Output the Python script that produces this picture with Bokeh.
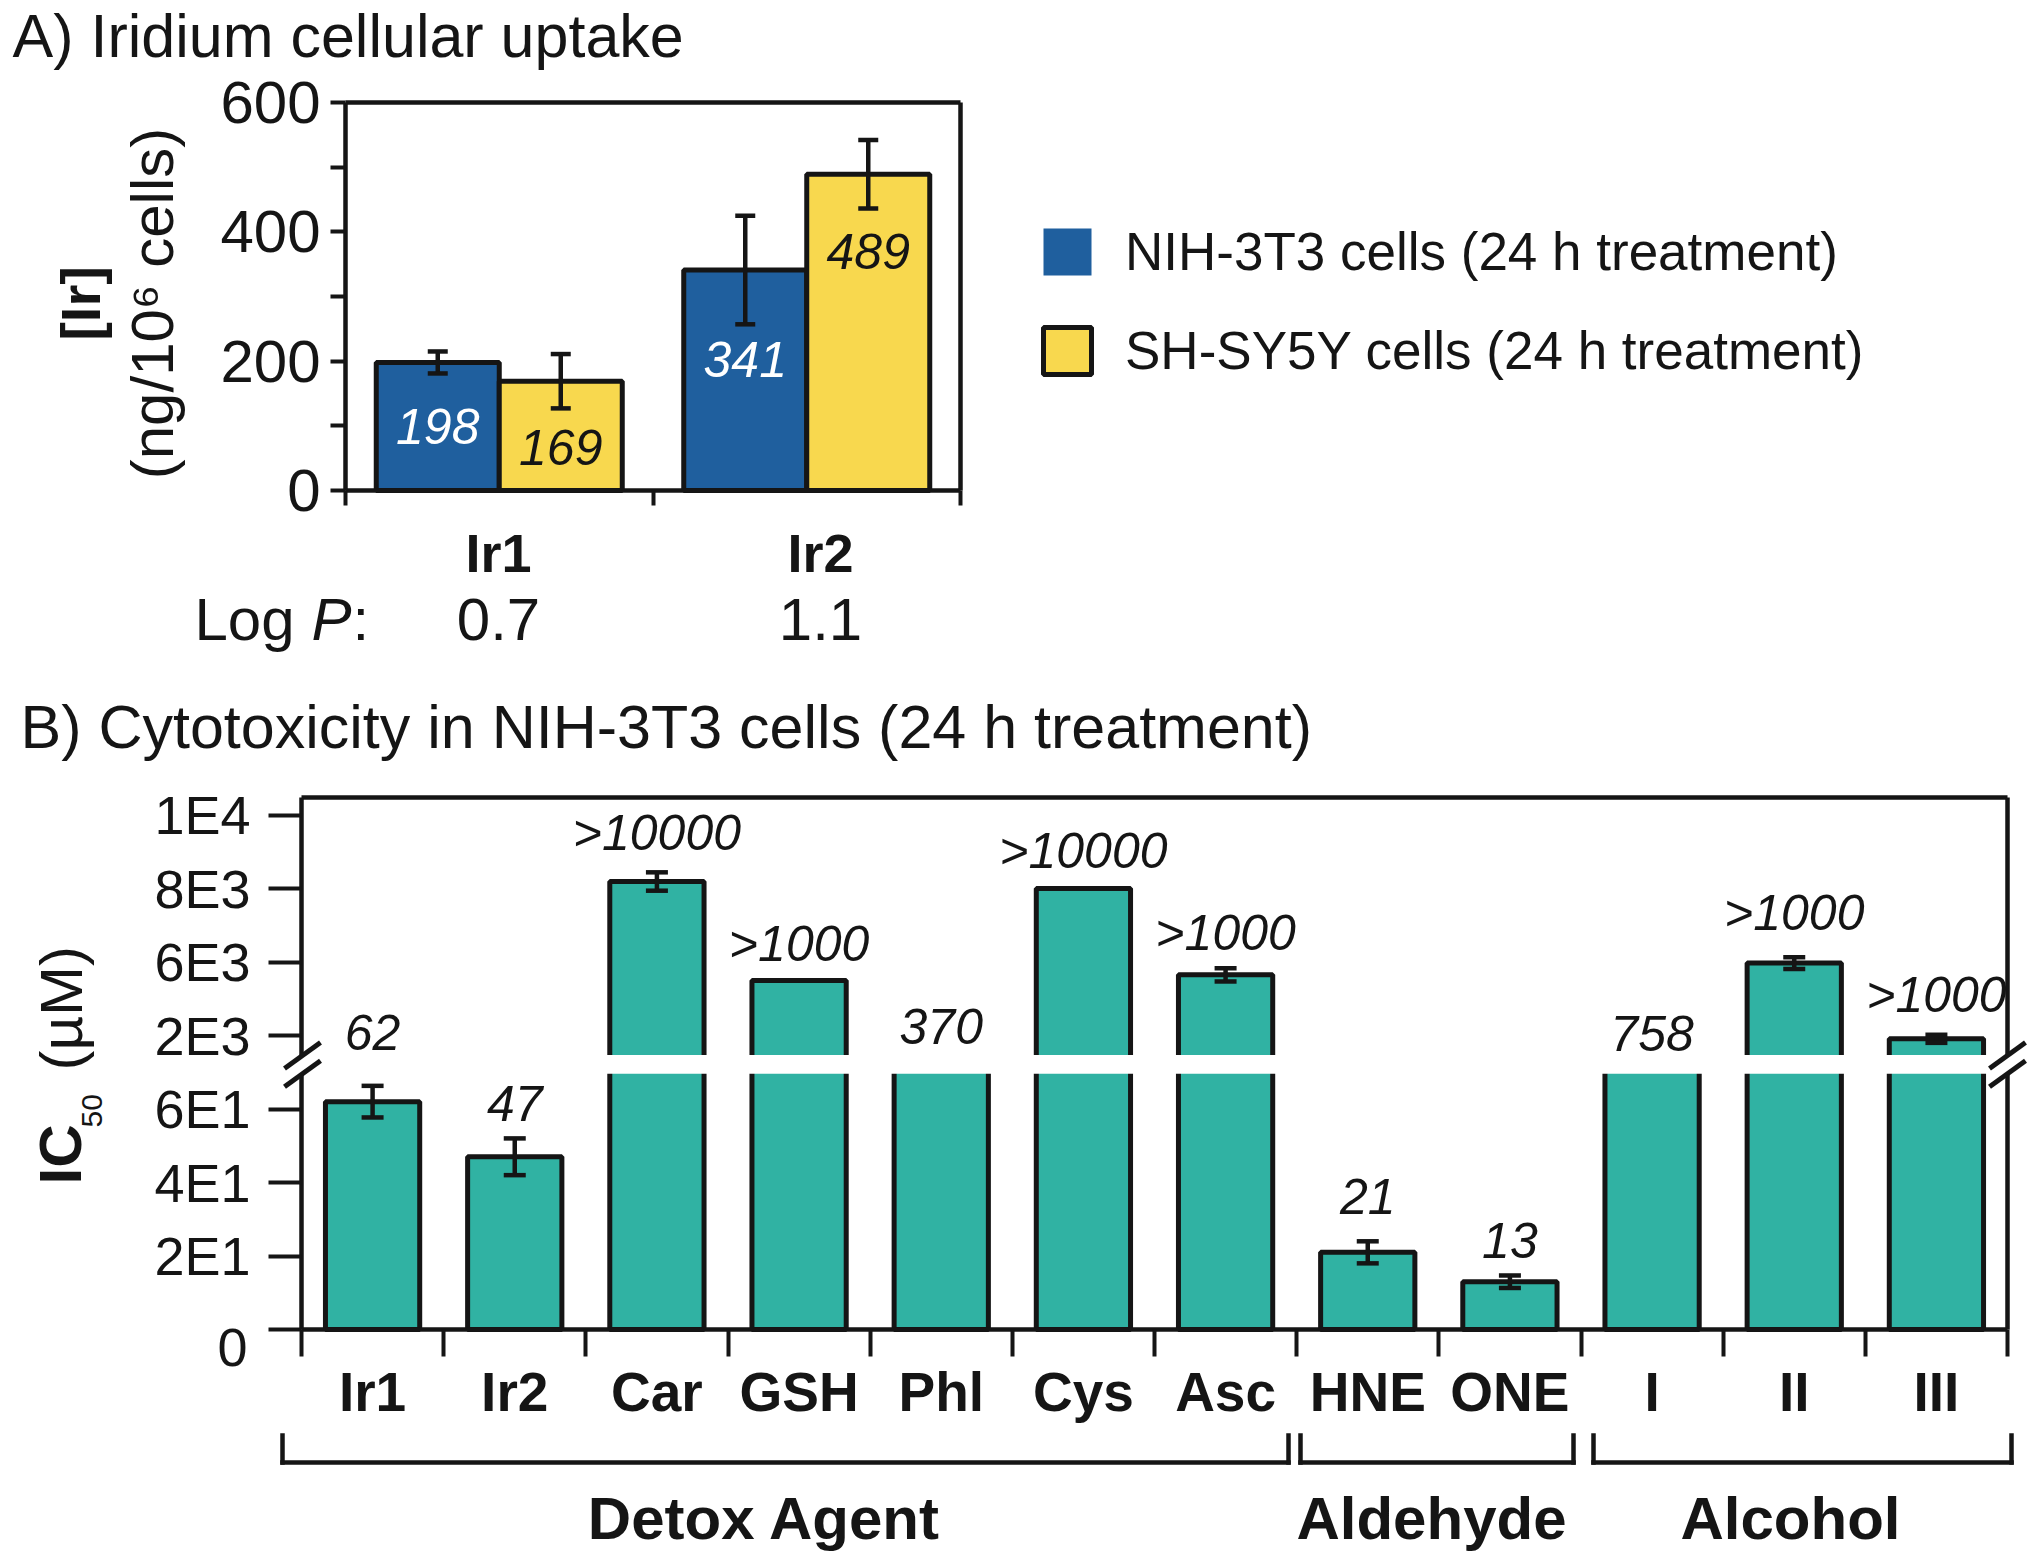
from math import pi
from bokeh.plotting import figure
from bokeh.models import (Range1d, FixedTicker, ColumnDataSource, Whisker, TeeHead, Label,
                          Legend, LegendItem, Arrow, PolyAnnotation, LinearAxis)
from bokeh.layouts import column
from bokeh.embed import file_html
from bokeh.resources import INLINE
from bokeh.core.properties import value

# ---------------- data ----------------
# Panel A: iridium cellular uptake (ng / 10^6 cells)
compounds_A = ["Ir1", "Ir2"]
logP = ["0.7", "1.1"]
nih_uptake = [198, 341]
nih_err = [17, 84]
shsy_uptake = [169, 489]
shsy_err = [42, 53]
series_A = ["NIH-3T3 cells (24 h treatment)", "SH-SY5Y cells (24 h treatment)"]
yA_ticks = [0, 200, 400, 600]
yA_minor = [100, 300, 500]

# Panel B: IC50 (uM) in NIH-3T3 cells
agents = ["Ir1", "Ir2", "Car", "GSH", "Phl", "Cys", "Asc", "HNE", "ONE", "I", "II", "III"]
ic50_bar = [62, 47, 8190, 5500, 370, 8000, 5650, 21, 13, 758, 5970, 3910]
ic50_err = [4.3, 5.0, 250, 0, 0, 0, 180, 3.0, 1.7, 0, 160, 110]
ic50_text = ["62", "47", ">10000", ">1000", "370", ">10000", ">1000", "21", "13", "758", ">1000", ">1000"]
groups = ["Detox Agent", "Aldehyde", "Alcohol"]
yB_tick_values = [0, 20, 40, 60, 4000, 6000, 8000, 10000]
yB_tick_text = ["0", "2E1", "4E1", "6E1", "2E3", "6E3", "8E3", "1E4"]

# ---------------- style / layout ----------------
BLUE, YELLOW, TEAL, INK = "#1f5f9e", "#f8d84e", "#30b2a3", "#151515"
FONT = "Liberation Sans"
W = 2032
BAR_LW, ERR_LW, AX_LW = 5, 4.5, 4.5

# panel A: frame fills the canvas; plot box at page px (345..960, 102..490)
A_H = 680
A_L, A_T, A_PW, A_PH = 345, 102, 615, 388
A_SX = A_PW / 2.0      # px per x unit
A_SY = A_PH / 600.0    # px per y unit
def ax(sx):  # page px -> data x
    return (sx - A_L) / A_SX
def ay(sy):
    return (A_T + A_PH - sy) / A_SY

# panel B: canvas starts at page y = A_H; plot box at page px (301..2007, 797..1329)
B_H = 885
B_Y0 = A_H
B_L, B_T, B_PW, B_PH = 301, 797 - A_H, 1706, 532
B_SX = B_PW / 12.0
B_SY = 3.675
YB_MAX = B_PH / B_SY
def bx(sx):
    return (sx - B_L) / B_SX
def by(sy):
    return (B_T + B_PH - (sy - B_Y0)) / B_SY

LOW_MAX, GAP_TOP = 69.6, 74.7
def broken(v):
    """Broken y axis: 0-70 linear, upper segment 40 + v/100."""
    if v <= LOW_MAX:
        return v
    u = 40 + v / 100.0
    if u < GAP_TOP:
        return (LOW_MAX + GAP_TOP) / 2
    return u

def base_fig(w, h, xr, yr):
    p = figure(width=w, height=h, x_range=xr, y_range=yr,
               x_axis_location=None, y_axis_location=None,
               min_border=0, min_border_left=0, min_border_right=0,
               min_border_top=0, min_border_bottom=0,
               output_backend="svg", toolbar_location=None)
    p.grid.visible = False
    p.outline_line_color = None
    p.background_fill_color = "white"
    p.border_fill_color = "white"
    p.title.visible = False
    return p

def style_axis(a):
    a.axis_line_width = AX_LW
    a.axis_line_color = INK
    a.major_tick_line_width = 4
    a.minor_tick_line_width = 4
    a.major_tick_line_color = INK
    a.minor_tick_line_color = INK
    a.major_label_text_font = FONT
    a.major_label_text_color = INK

def lab(p, x, y, text, size, style="normal", align="left", angle=0, color=INK):
    p.add_layout(Label(x=x, y=y, text=text, text_font=FONT, text_font_size=size,
                       text_font_style=style, text_align=align, text_baseline="middle",
                       angle=angle, text_color=color))

def err_bars(p, src, head):
    p.add_layout(Whisker(source=src, base="x", lower="lo", upper="hi", level="annotation",
                         line_color=INK, line_width=ERR_LW,
                         upper_head=TeeHead(size=head, line_width=ERR_LW, line_color=INK),
                         lower_head=TeeHead(size=head, line_width=ERR_LW, line_color=INK)))

# ================= Panel A =================
pA = base_fig(W, A_H,
              Range1d(-A_L / A_SX, (W - A_L) / A_SX),
              Range1d(-(A_H - A_T - A_PH) / A_SY, 600 + A_T / A_SY))

gx = [i + 0.5 for i in range(len(compounds_A))]
srcA1 = ColumnDataSource(dict(x=[g - 0.2 for g in gx], top=nih_uptake,
                              lo=[v - e for v, e in zip(nih_uptake, nih_err)],
                              hi=[v + e for v, e in zip(nih_uptake, nih_err)],
                              ty=[99, 202], txt=[str(v) for v in nih_uptake]))
srcA2 = ColumnDataSource(dict(x=[g + 0.2 for g in gx], top=shsy_uptake,
                              lo=[v - e for v, e in zip(shsy_uptake, shsy_err)],
                              hi=[v + e for v, e in zip(shsy_uptake, shsy_err)],
                              ty=[66.5, 369], txt=[str(v) for v in shsy_uptake]))
r1 = pA.vbar(x="x", top="top", bottom=0, width=0.4, source=srcA1,
             fill_color=BLUE, line_color=INK, line_width=BAR_LW)
r2 = pA.vbar(x="x", top="top", bottom=0, width=0.4, source=srcA2,
             fill_color=YELLOW, line_color=INK, line_width=BAR_LW)
# legend key for the blue series (no outline, as in the original); draws no bar itself
r1_key = pA.vbar(x=[float("nan")], top=[float("nan")], width=0.4, fill_color=BLUE, line_color=None)
# top and right edges of the plot box
pA.segment(x0=[0, 2], y0=[600, 0], x1=[2, 2], y1=[600, 600], line_color=INK, line_width=AX_LW)
err_bars(pA, srcA1, 20)
err_bars(pA, srcA2, 20)
pA.text(x="x", y="ty", text="txt", source=srcA1, text_align="center", text_baseline="middle",
        text_font=value(FONT), text_font_style="italic", text_font_size="50px", text_color="white")
pA.text(x="x", y="ty", text="txt", source=srcA2, text_align="center", text_baseline="middle",
        text_font=value(FONT), text_font_style="italic", text_font_size="50px", text_color=INK)

label_pos_A = [ax(498), ax(820)]
yaxA = LinearAxis(fixed_location=0, bounds=(0, 600),
                  ticker=FixedTicker(ticks=yA_ticks, minor_ticks=yA_minor),
                  major_tick_out=15, major_tick_in=0, minor_tick_out=15, minor_tick_in=0,
                  major_label_text_font_size="60px", major_label_standoff=10)
xaxA = LinearAxis(fixed_location=0, bounds=(0, 2),
                  ticker=FixedTicker(ticks=label_pos_A, minor_ticks=[0, 1, 2]),
                  major_label_overrides={k: t for k, t in zip(label_pos_A, compounds_A)},
                  major_tick_out=0, major_tick_in=0, minor_tick_out=15, minor_tick_in=0,
                  major_label_text_font_size="54px", major_label_text_font_style="bold",
                  major_label_standoff=17)
style_axis(yaxA)
style_axis(xaxA)
pA.add_layout(yaxA, "left")
pA.add_layout(xaxA, "below")

lab(pA, ax(12), ay(35), "A) Iridium cellular uptake", "61px")
lab(pA, ax(79.5), ay(303), "[Ir]", "56px", style="bold", align="center", angle=pi / 2)
lab(pA, ax(152), ay(303), "(ng/10\u2076 cells)", "60px", align="center", angle=pi / 2)
lab(pA, ax(194), ay(619), "Log ", "60px")
lab(pA, ax(311), ay(619), "P", "60px", style="italic")
lab(pA, ax(352), ay(619), ":", "60px")
for xp, lp in zip(label_pos_A, logP):
    lab(pA, xp, ay(619), lp, "60px", align="center")

legA = Legend(items=[LegendItem(label=series_A[0], renderers=[r1_key]),
                     LegendItem(label=series_A[1], renderers=[r2])],
              location=(1037, A_H - 225 - 156), orientation="vertical",
              glyph_width=60, glyph_height=59, label_height=59, label_standoff=28,
              spacing=38, padding=0, margin=0, border_line_color=None,
              background_fill_alpha=0, label_text_font=FONT, label_text_font_size="53px",
              label_text_color=INK)
pA.add_layout(legA)

# ================= Panel B =================
pB = base_fig(W, B_H,
              Range1d(-B_L / B_SX, (W - B_L) / B_SX),
              Range1d(-(B_H - B_T - B_PH) / B_SY, (B_T + B_PH) / B_SY))

xB = [i + 0.5 for i in range(len(agents))]
topB = [broken(v) for v in ic50_bar]
nudge = [35, 17, 21, 18, 20, 20, 17, 27, 17, 13, 26, 22]
srcB = ColumnDataSource(dict(x=xB, top=topB, txt=ic50_text,
                             ety=[broken(v + e) for v, e in zip(ic50_bar, ic50_err)],
                             off=[-(n + 18) for n in nudge]))
pB.vbar(x="x", top="top", bottom=0, width=0.663, source=srcB,
        fill_color=TEAL, line_color=INK, line_width=BAR_LW)
# white break band across the bars
pB.quad(left=[0], right=[12], bottom=[LOW_MAX], top=[GAP_TOP], fill_color="white", line_color=None)
# top and right edges of the plot box
pB.segment(x0=[0, 12], y0=[YB_MAX, 0], x1=[12, 12], y1=[YB_MAX, YB_MAX], line_color=INK, line_width=AX_LW)

eb = [(x, v, e) for x, v, e in zip(xB, ic50_bar, ic50_err) if e > 0]
srcE = ColumnDataSource(dict(x=[t[0] for t in eb],
                             lo=[broken(t[1] - t[2]) for t in eb],
                             hi=[broken(t[1] + t[2]) for t in eb]))
err_bars(pB, srcE, 22)
pB.text(x="x", y="ety", text="txt", y_offset="off", source=srcB, text_align="center",
        text_baseline="middle", text_font=value(FONT), text_font_style="italic",
        text_font_size="50px", text_color=INK)

yticks = [broken(v) for v in yB_tick_values]
yticks = [int(t) if float(t).is_integer() else t for t in yticks]
ov = {t: s for t, s in zip(yticks, yB_tick_text)}
ov[0] = ""
yaxB = LinearAxis(fixed_location=0, bounds=(0, YB_MAX),
                  ticker=FixedTicker(ticks=yticks, minor_ticks=[]),
                  major_label_overrides=ov,
                  major_tick_out=33, major_tick_in=0, minor_tick_out=0, minor_tick_in=0,
                  major_label_standoff=18, major_label_text_font_size="54px")
xaxB = LinearAxis(fixed_location=0, bounds=(0, 12),
                  ticker=FixedTicker(ticks=xB, minor_ticks=list(range(13))),
                  major_label_overrides={x: a for x, a in zip(xB, agents)},
                  major_tick_out=0, major_tick_in=0, minor_tick_out=27, minor_tick_in=0,
                  major_label_standoff=4, major_label_text_font_size="55px",
                  major_label_text_font_style="bold")
style_axis(yaxB)
style_axis(xaxB)
pB.add_layout(yaxB, "left")
pB.add_layout(xaxB, "below")

lab(pB, bx(247), by(1347), yB_tick_text[0], "54px", align="right")
lab(pB, bx(20), by(726), "B) Cytotoxicity in NIH-3T3 cells (24 h treatment)", "61px")
lab(pB, bx(60), by(1184), "IC", "60px", style="bold", angle=pi / 2)
lab(pB, bx(91.5), by(1127), "50", "30px", angle=pi / 2)
lab(pB, bx(60.5), by(1070), "(\u00b5M)", "60px", angle=pi / 2)

# group brackets and labels
bracket_px = [(282, 1288), (1300, 1573), (1593, 2011)]
group_label_px = [764, 1431, 1790]
for (x0, x1), gname, gxp in zip(bracket_px, groups, group_label_px):
    for (a0, b0, a1, b1) in [(x0, 1435, x0, 1462), (x0, 1462, x1, 1462), (x1, 1462, x1, 1435)]:
        pB.add_layout(Arrow(x_start=bx(a0), y_start=by(b0), x_end=bx(a1), y_end=by(b1),
                            start=None, end=None, line_width=AX_LW, line_color=INK, line_cap="square"))
    lab(pB, bx(gxp), by(1518), gname, "60px", style="bold", align="center")

# axis break marks
sy_t = 1329 - GAP_TOP * B_SY + 0.5
sy_b = 1329 - LOW_MAX * B_SY
for cx in (302, 2007):
    pB.add_layout(PolyAnnotation(xs=[bx(cx - 18), bx(cx + 18), bx(cx + 18), bx(cx - 18)],
                                 ys=[by(sy_t + 13), by(sy_t - 13), by(sy_b - 13), by(sy_b + 13)],
                                 fill_color="white", fill_alpha=1, line_color=None))
    for s in (sy_t, sy_b):
        pB.add_layout(Arrow(x_start=bx(cx - 18), y_start=by(s + 13), x_end=bx(cx + 18), y_end=by(s - 13),
                            start=None, end=None, line_width=5, line_color=INK))

layout = column(pA, pB)
open("out.html", "w").write(file_html(layout, INLINE))
